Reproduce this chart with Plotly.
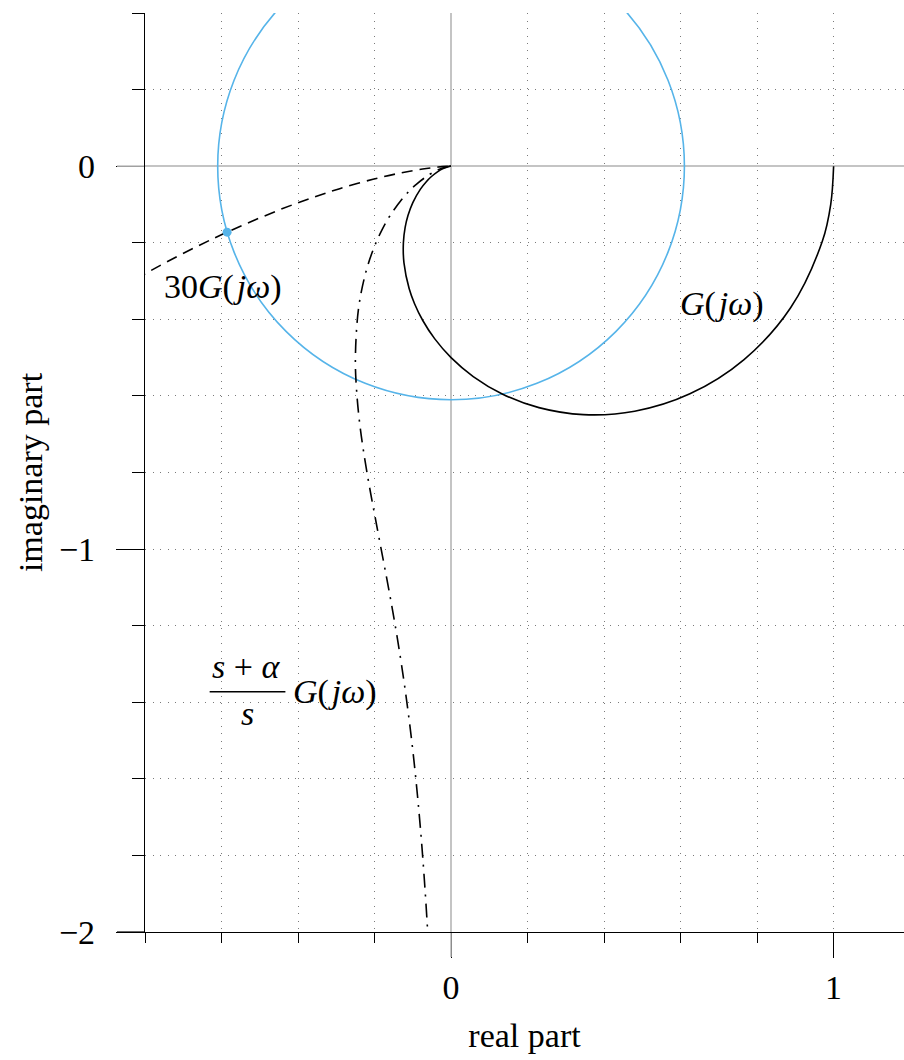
import plotly.graph_objects as go

# ---- data ----
# G(jw)
G_re = [1.0, 0.9925, 0.9705, 0.8876, 0.7659, 0.6243, 0.48, 0.3460, 0.2297, 0.1338,
        0.0580, 0.0, -0.0430, -0.0739, -0.0954, -0.1096, -0.1231, -0.1246, -0.12,
        -0.1126, -0.0999, -0.08, -0.0641, -0.0519, -0.0355, -0.0192, -0.0097, -0.0025, 0.0]
G_im = [0.0, -0.0995, -0.1961, -0.3698, -0.5050, -0.5945, -0.64, -0.6488, -0.6306, -0.5949,
        -0.5494, -0.5, -0.4504, -0.4031, -0.3593, -0.3196, -0.2525, -0.2003, -0.16,
        -0.1290, -0.0951, -0.06, -0.0399, -0.0277, -0.0148, -0.0056, -0.0020, -0.0003, 0.0]

# 30 G(jw)
G30_re = [-1.0651, -0.8986, -0.7670, -0.6616, -0.5760, -0.4473, -0.3569, -0.2911,
          -0.2040, -0.1316, -0.0744, -0.0332, -0.0120, 0.0]
G30_im = [-0.4438, -0.3379, -0.2630, -0.2085, -0.1680, -0.1136, -0.0803, -0.0588,
          -0.0342, -0.0176, -0.0075, -0.0022, -0.0005, 0.0]

# (s+alpha)/s G(jw)
L_re = [-0.0370, -0.0554, -0.0758, -0.0972, -0.1189, -0.1400, -0.16, -0.1946, -0.2207,
        -0.2380, -0.2472, -0.25, -0.2419, -0.2237, -0.2020, -0.1802, -0.16, -0.1189,
        -0.09, -0.0554, -0.0370, -0.0196, -0.0098, -0.0025, 0.0]
L_im = [-2.5888, -2.1038, -1.7816, -1.5505, -1.3749, -1.2352, -1.12, -0.9371, -0.7947,
        -0.6785, -0.5817, -0.5, -0.3723, -0.2804, -0.2140, -0.1656, -0.13, -0.0751,
        -0.0467, -0.0212, -0.0112, -0.0042, -0.0015, -0.0002, 0.0]

# circle of radius r centred at the origin, and the marked point on it
CIRCLE_R = 0.61
DOT_RE = [-0.5854]
DOT_IM = [-0.1723]

XTICK_VALS = [0, 1]
XTICK_TEXT = ["0", "1"]
YTICK_VALS = [0, -1, -2]
YTICK_TEXT = ["0", "\u22121", "\u22122"]

X_TITLE = "real part"
Y_TITLE = "imaginary part"

# ---- styling ----
FONT = "Liberation Serif"
FS = 34
BLUE = "#56B4E9"
XRANGE = [-0.8, 1.184]
YRANGE = [-2.0, 0.4]

ML, MT, MB = 145, 13, 128
FIG_W, FIG_H = 904, 1060
PLOT_W = FIG_W - ML
PLOT_H = FIG_H - MT - MB

fig = go.Figure()

fig.add_trace(go.Scatter(x=G_re, y=G_im, mode="lines",
                         line=dict(color="black", width=1.6, shape="spline", smoothing=1.0),
                         hoverinfo="skip", showlegend=False))
fig.add_trace(go.Scatter(x=G30_re, y=G30_im, mode="lines",
                         line=dict(color="black", width=1.6, dash="11px,7px", shape="spline", smoothing=1.0),
                         hoverinfo="skip", showlegend=False))
fig.add_trace(go.Scatter(x=L_re, y=L_im, mode="lines",
                         line=dict(color="black", width=1.6, dash="14px,7px,2px,7px", shape="spline", smoothing=1.0),
                         hoverinfo="skip", showlegend=False))
fig.add_trace(go.Scatter(x=DOT_RE, y=DOT_IM, mode="markers",
                         marker=dict(color=BLUE, size=9, line=dict(width=0)),
                         hoverinfo="skip", showlegend=False))

fig.add_shape(type="circle", xref="x", yref="y",
              x0=-CIRCLE_R, y0=-CIRCLE_R, x1=CIRCLE_R, y1=CIRCLE_R,
              line=dict(color=BLUE, width=1.6), layer="between")

# axis-line extension to the left and grey zero ticks
fig.add_shape(type="line", xref="paper", yref="paper", x0=-28 / PLOT_W, x1=0, y0=0, y1=0,
              line=dict(color="black", width=1.2), layer="above")
x0p = (0 - XRANGE[0]) / (XRANGE[1] - XRANGE[0])
y0p = (0 - YRANGE[0]) / (YRANGE[1] - YRANGE[0])
fig.add_shape(type="line", xref="paper", yref="paper", x0=x0p, x1=x0p, y0=-25 / PLOT_H, y1=-1 / PLOT_H,
              line=dict(color="#b0b0b0", width=1.5), layer="above")
fig.add_shape(type="line", xref="paper", yref="paper", x0=-28 / PLOT_W, x1=-1 / PLOT_W, y0=y0p, y1=y0p,
              line=dict(color="#b0b0b0", width=1.5), layer="above")

tfont = dict(family=FONT, size=FS, color="black")

def ann(text, x, y, xanchor="center", size=FS):
    fig.add_annotation(text=text, x=x, y=y, xref="x", yref="y", showarrow=False,
                       xanchor=xanchor, yanchor="middle",
                       font=dict(family=FONT, size=size, color="black"))

HS = "\u200a"
ann("30<i>G</i>(" + HS + "<i>jω</i>)", -0.755, -0.316, xanchor="left")
ann("<i>G</i>(" + HS + "<i>jω</i>)", 0.592, -0.359, xanchor="left")
ann("<i>s</i> + <i>α</i>", -0.537, -1.3068)
ann("<i>s</i>", -0.533, -1.4295)
ann("<i>G</i>(" + HS + "<i>jω</i>)", -0.4178, -1.373, xanchor="left")
fig.add_shape(type="line", xref="x", yref="y", x0=-0.631, x1=-0.433, y0=-1.3726, y1=-1.3726,
              line=dict(color="black", width=1.5), layer="above")

grid_common = dict(showgrid=True, gridcolor="#7a7a7a", gridwidth=1, griddash="1px,6.5px")

fig.update_xaxes(range=XRANGE, tickmode="array", tickvals=XTICK_VALS, ticktext=XTICK_TEXT,
                 ticks="outside", ticklen=25, tickwidth=1, tickcolor="black",
                 tickfont=tfont, ticklabelstandoff=0,
                 showline=True, linecolor="black", linewidth=1.2,
                 zeroline=True, zerolinecolor="#c4c4c4", zerolinewidth=1.5,
                 minor=dict(tickmode="linear", tick0=0, dtick=0.2, ticks="outside", ticklen=10,
                            tickwidth=1, tickcolor="black", **grid_common),
                 title=dict(text=X_TITLE, font=tfont, standoff=18),
                 **grid_common)
fig.update_yaxes(range=YRANGE, tickmode="array", tickvals=YTICK_VALS, ticktext=YTICK_TEXT,
                 ticks="outside", ticklen=28, tickwidth=1, tickcolor="black",
                 tickfont=tfont, ticklabelstandoff=14,
                 showline=True, linecolor="black", linewidth=1.2,
                 zeroline=True, zerolinecolor="#c4c4c4", zerolinewidth=1.5,
                 minor=dict(tickmode="linear", tick0=0, dtick=0.2, ticks="outside", ticklen=12,
                            tickwidth=1, tickcolor="black", **grid_common),
                 title=dict(text=Y_TITLE, font=tfont, standoff=6),
                 **grid_common)

fig.update_layout(width=FIG_W, height=FIG_H,
                  margin=dict(l=ML, r=0, t=MT, b=MB, autoexpand=False),
                  plot_bgcolor="white", paper_bgcolor="white",
                  font=dict(family=FONT, size=FS, color="black"),
                  showlegend=False)

fig.write_html("out.html", config={"displayModeBar": False},
               post_script="document.body.style.margin='0';document.body.style.overflow='hidden';")
